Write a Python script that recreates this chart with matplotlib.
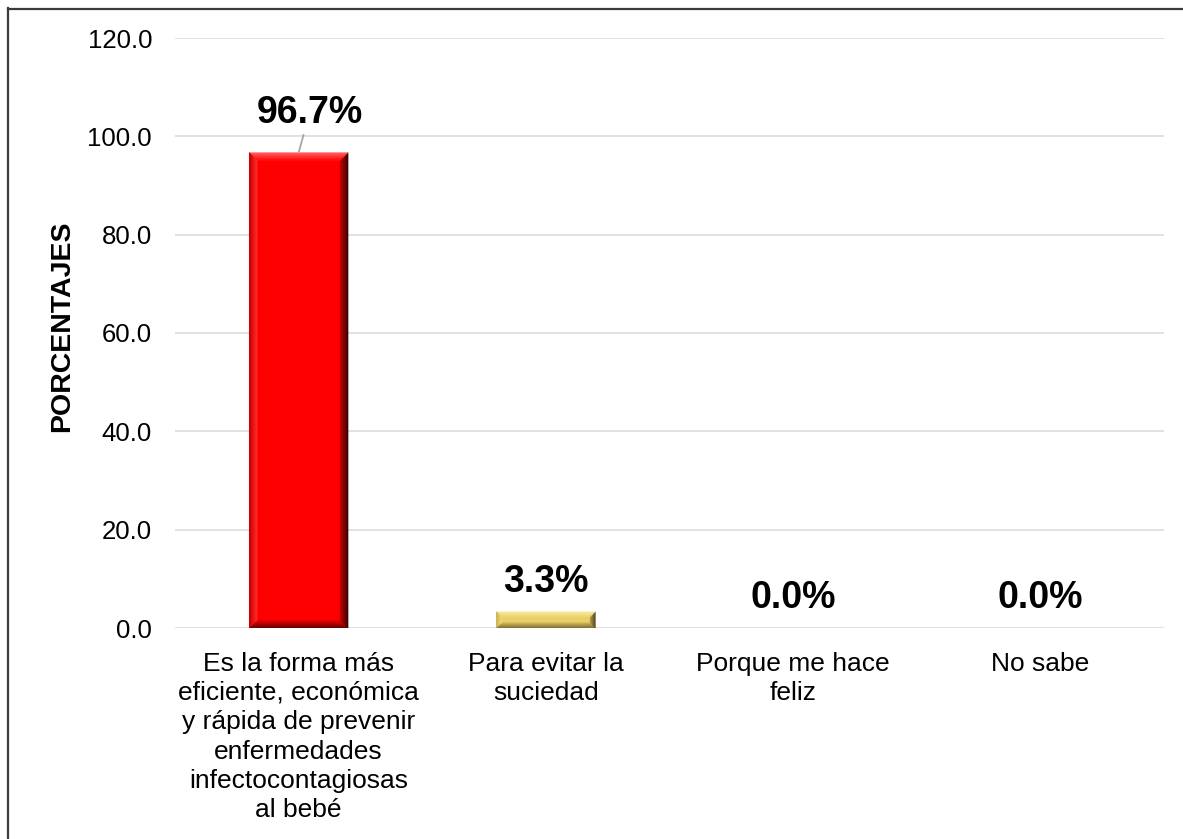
import matplotlib
matplotlib.use("Agg")
import matplotlib.pyplot as plt
from matplotlib.patches import Polygon
from matplotlib.lines import Line2D
import numpy as np

# Data
categories = [
    "Es la forma más\neficiente, económica\ny rápida de prevenir\nenfermedades\ninfectocontagiosas\nal bebé",
    "Para evitar la\nsuciedad",
    "Porque me hace\nfeliz",
    "No sabe",
]
percentages = [96.7, 3.3, 0.0, 0.0]
y_ticks = [0, 20, 40, 60, 80, 100, 120]

# Bevel palettes: centre, (outer, inner) for top, bottom, left, right
palettes = [
    {"face": "#ff0000", "top": ("#ff6a6a", "#ff1010"), "bottom": ("#6a0000", "#e80000"),
     "left": ("#c40000", "#ff2a2a"), "right": ("#3a0000", "#b80000")},
    {"face": "#e8cf66", "top": ("#fbeaa0", "#efd675"), "bottom": ("#7a6a30", "#c8b056"),
     "left": ("#c9b055", "#efd878"), "right": ("#4e4220", "#a89040")},
    {"face": "#ff0000", "top": ("#ff6a6a", "#ff1010"), "bottom": ("#6a0000", "#e80000"),
     "left": ("#c40000", "#ff2a2a"), "right": ("#3a0000", "#b80000")},
    {"face": "#ff0000", "top": ("#ff6a6a", "#ff1010"), "bottom": ("#6a0000", "#e80000"),
     "left": ("#c40000", "#ff2a2a"), "right": ("#3a0000", "#b80000")},
]

plt.rcParams["font.family"] = ["Liberation Sans", "DejaVu Sans"]

W, H = 1183, 839
fig = plt.figure(figsize=(W / 100, H / 100), dpi=100)
fig.patch.set_facecolor("white")
ax = fig.add_axes([175 / W, 211 / H, 989 / W, 590 / H])

x = np.arange(len(categories))
bar_w = 0.40
bars = ax.bar(x, percentages, width=bar_w, color=[p["face"] for p in palettes],
              zorder=3, linewidth=0)

ax.set_xlim(-0.5, len(categories) - 0.5)
ax.set_ylim(0, 120)
ax.set_yticks(y_ticks)
ax.set_yticklabels([f"{v:.1f}" for v in y_ticks])
ax.set_xticks(x)
ax.set_xticklabels(categories, linespacing=1.28)
ax.tick_params(axis="y", length=0, pad=16.5, labelsize=18.5, colors="black")
ax.tick_params(axis="x", length=0, pad=17, labelsize=19, colors="black")
for s in ax.spines.values():
    s.set_visible(False)
ax.grid(axis="y", color="#d9d9d9", linewidth=1.1, zorder=0)
ax.set_axisbelow(True)

ax.set_ylabel("PORCENTAJES", fontsize=20.5, fontweight="bold")
ax.yaxis.label.set_va("center")
ax.yaxis.set_label_coords(-0.114, 0.511)


def mix(c1, c2, t):
    a = np.array(matplotlib.colors.to_rgb(c1))
    b = np.array(matplotlib.colors.to_rgb(c2))
    return tuple(a + (b - a) * t)


# Bevelled edges drawn over each bar, sized in pixels
fig.canvas.draw()
to_px = ax.transData
to_data = ax.transData.inverted()
steps = 8
for rect, pal in zip(bars, palettes):
    h = rect.get_height()
    if h <= 0:
        continue
    (px0, py0) = to_px.transform((rect.get_x(), 0))
    (px1, py1) = to_px.transform((rect.get_x() + rect.get_width(), h))
    b = min(8.0, 0.32 * (py1 - py0))
    for k in range(steps):
        i0 = b * k / steps
        i1 = b * (k + 1) / steps
        t = k / (steps - 1)
        o = [(px0 + i0, py0 + i0), (px1 - i0, py0 + i0), (px1 - i0, py1 - i0), (px0 + i0, py1 - i0)]
        n = [(px0 + i1, py0 + i1), (px1 - i1, py0 + i1), (px1 - i1, py1 - i1), (px0 + i1, py1 - i1)]
        sides = {
            "bottom": [o[0], o[1], n[1], n[0]],
            "right": [o[1], o[2], n[2], n[1]],
            "top": [o[2], o[3], n[3], n[2]],
            "left": [o[3], o[0], n[0], n[3]],
        }
        for name, pts in sides.items():
            col = mix(pal[name][0], pal[name][1], t)
            ax.add_patch(Polygon(to_data.transform(pts), closed=True, facecolor=col,
                                 edgecolor=col, linewidth=0.3, zorder=4))

# Value labels
for xi, v in zip(x, percentages):
    if v > 50:
        ax.annotate(f"{v:.1f}%", xy=(xi, v), xytext=(8, 21.5), textcoords="offset points",
                    ha="center", va="baseline", fontsize=27, fontweight="bold", zorder=5,
                    arrowprops=dict(arrowstyle="-", color="#a6a6a6", lw=1.3,
                                    shrinkA=1, shrinkB=0))
    else:
        ax.annotate(f"{v:.1f}%", xy=(xi, v), xytext=(0, 14.4), textcoords="offset points",
                    ha="center", va="baseline", fontsize=27, fontweight="bold", zorder=5)

# Frame edges along the top and left
fig.add_artist(Line2D([7.5 / W, 7.5 / W], [0, 1 - 8 / H], transform=fig.transFigure,
                      color="#3c3c3c", linewidth=1.6))
fig.add_artist(Line2D([7.5 / W, 1], [1 - 9 / H, 1 - 9 / H], transform=fig.transFigure,
                      color="#3c3c3c", linewidth=1.6))

fig.savefig("out.png", dpi=100, facecolor="white")
